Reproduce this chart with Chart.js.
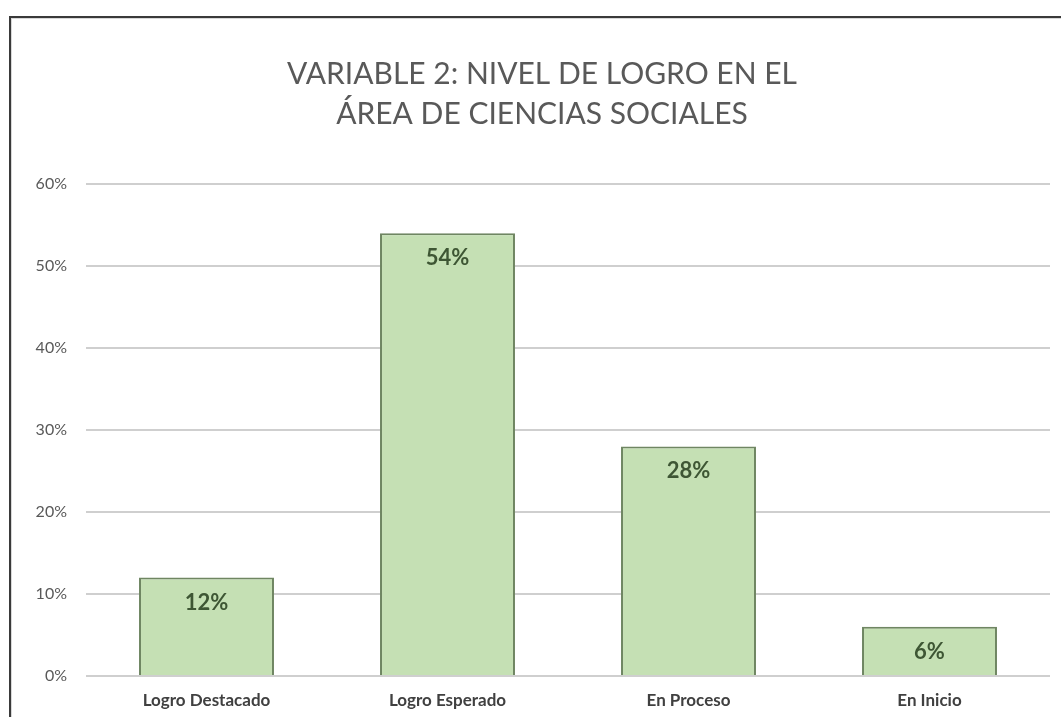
<!DOCTYPE html>
<html>
<head>
<meta charset="utf-8">
<script src="https://cdn.jsdelivr.net/npm/chart.js@4/dist/chart.umd.min.js"></script>
<style>
    html, body { margin: 0; padding: 0; background: #fff; }
    #wrap { position: relative; width: 1061px; height: 717px; }
    #frame {
        position: absolute; left: 9px; top: 16px; right: 0; bottom: 0;
        border-left: 2px solid #3a3a3a; border-top: 2px solid #3a3a3a;
        box-shadow: inset 1px 1px 0 #d8d8d8;
        pointer-events: none;
    }
</style>
</head>
<body>
<div id="wrap">
    <canvas id="chart" width="1061" height="717"></canvas>
    <div id="frame"></div>
</div>
<script>
// datos del gráfico
const categories = ['Logro Destacado', 'Logro Esperado', 'En Proceso', 'En Inicio'];
const percentages = [12, 54, 28, 6];
const tickValues = [0, 10, 20, 30, 40, 50, 60];
const chartTitle = ['VARIABLE 2: NIVEL DE LOGRO EN EL', 'ÁREA DE CIENCIAS SOCIALES'];

const FONT = 'Lato, "Open Sans", sans-serif';

// etiquetas de valor dentro de cada barra
const valueLabels = {
    id: 'valueLabels',
    afterDatasetsDraw(chart) {
        const ctx = chart.ctx;
        const meta = chart.getDatasetMeta(0);
        ctx.save();
        ctx.font = 'bold 22px ' + FONT;
        ctx.fillStyle = '#3e5634';
        ctx.textAlign = 'center';
        ctx.textBaseline = 'middle';
        meta.data.forEach((bar, i) => {
            ctx.fillText(percentages[i] + '%', bar.x, bar.y + 25);
        });
        ctx.restore();
    }
};

new Chart(document.getElementById('chart'), {
    type: 'bar',
    data: {
        labels: categories,
        datasets: [{
            data: percentages,
            backgroundColor: '#c5e0b4',
            borderColor: '#6f8662',
            borderWidth: 2,
            barPercentage: 0.56,
            categoryPercentage: 1
        }]
    },
    options: {
        responsive: false,
        animation: false,
        layout: { padding: { left: 34, right: 11, top: 0, bottom: 0 } },
        plugins: {
            legend: { display: false },
            tooltip: { enabled: false },
            title: {
                display: true,
                text: chartTitle,
                color: '#595959',
                font: { family: FONT, size: 30, weight: 'normal', lineHeight: 40 / 30 },
                padding: { top: 54, bottom: 50 }
            }
        },
        scales: {
            x: {
                grid: { display: false },
                border: { display: false },
                ticks: {
                    color: '#404040',
                    font: { family: FONT, size: 17, weight: 'bold' },
                    padding: 6
                },
                afterFit(scale) { scale.height = 41; }
            },
            y: {
                min: 0,
                max: 60,
                afterBuildTicks(scale) {
                    scale.ticks = tickValues.map(v => ({ value: v }));
                },
                grid: { color: '#cfcfcf', lineWidth: 2, drawTicks: false },
                border: { display: false },
                ticks: {
                    color: '#595959',
                    font: { family: FONT, size: 16 },
                    padding: 19,
                    callback: v => v + '%'
                },
                afterFit(scale) { scale.width = 52; }
            }
        }
    },
    plugins: [valueLabels]
});
</script>
</body>
</html>
